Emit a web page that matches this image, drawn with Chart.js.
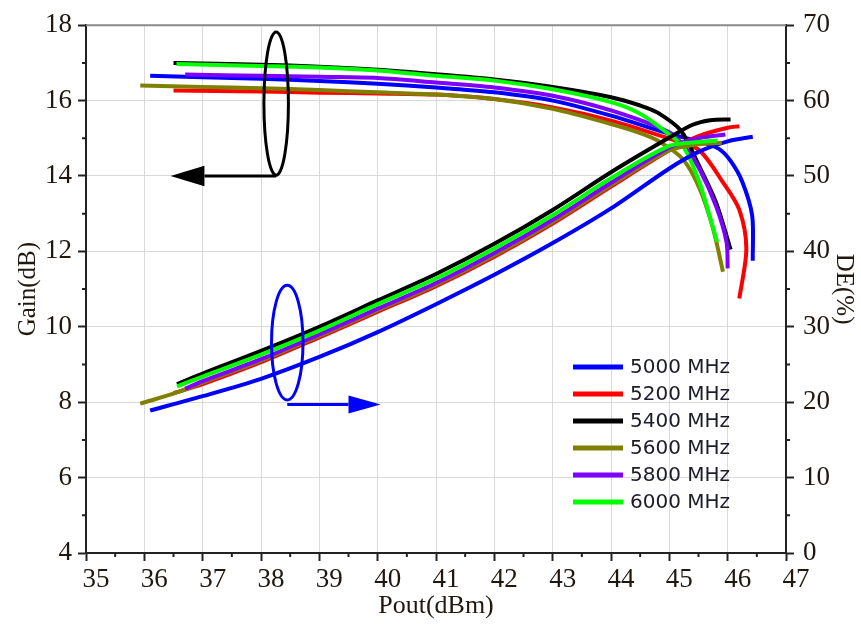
<!DOCTYPE html>
<html>
<head>
<meta charset="utf-8">
<script src="https://cdn.jsdelivr.net/npm/chart.js@4.4.0/dist/chart.umd.min.js"></script>
<style>
  html, body { margin: 0; padding: 0; background: #fff; }
  #wrap { width: 861px; height: 630px; }
</style>
</head>
<body>
<div id="wrap"><canvas id="myChart" width="861" height="630"></canvas></div>
<script>
// Tần số (legend)
const freqLabels = ["5000 MHz", "5200 MHz", "5400 MHz", "5600 MHz", "5800 MHz", "6000 MHz"];
const freqColors = ["#0000ff", "#ff0000", "#000000", "#808000", "#8000ff", "#00ff00"];

// Gain (dB) vs Pout (dBm)
const gainX5000 = [36.1, 37, 38, 39, 40, 41, 42, 43, 44, 45, 45.5, 45.85, 46.05, 46.25, 46.42, 46.43];
const gain5000  = [16.66, 16.62, 16.58, 16.52, 16.45, 16.35, 16.22, 16.0, 15.6, 15.12, 14.92, 14.72, 14.4, 13.85, 12.95, 11.75];
const gainX5200 = [36.5, 38, 39, 40, 41, 42, 43, 44, 45, 45.5, 45.92, 46.2, 46.32, 46.2];
const gain5200  = [16.27, 16.24, 16.21, 16.19, 16.16, 16.04, 15.82, 15.47, 14.99, 14.7, 13.83, 13.1, 12.07, 10.75];
const gainX5400 = [36.5, 38, 39, 40, 41, 42, 43, 44, 44.5, 44.8, 45.2, 45.5, 45.8, 46.05];
const gain5400  = [17.0, 16.95, 16.9, 16.82, 16.7, 16.56, 16.36, 16.09, 15.87, 15.68, 15.2, 14.3, 13.3, 12.05];
const gainX5600 = [35.93, 37, 38, 39, 40, 41, 42, 43, 44, 44.5, 44.8, 45.23, 45.52, 45.75, 45.92];
const gain5600  = [16.4, 16.36, 16.33, 16.28, 16.22, 16.16, 16.04, 15.78, 15.38, 15.14, 14.94, 14.45, 13.66, 12.6, 11.46];
const gainX5800 = [36.7, 38, 39, 40, 41, 42, 43, 44, 45, 45.3, 45.52, 45.8, 45.98, 46.0];
const gain5800  = [16.69, 16.66, 16.63, 16.6, 16.48, 16.35, 16.13, 15.74, 15.16, 14.7, 14.18, 13.2, 12.25, 11.55];
const gainX6000 = [36.55, 38, 39, 40, 41, 42, 43, 44, 44.5, 45, 45.25, 45.5, 45.7, 45.82];
const gain6000  = [16.97, 16.92, 16.88, 16.8, 16.66, 16.53, 16.3, 15.96, 15.65, 15.1, 14.75, 13.9, 12.9, 12.25];

// DE (%) vs Pout (dBm)
const deX5000 = [36.1, 37, 38, 39, 40, 41, 42, 43, 44, 45, 45.5, 46, 46.43];
const de5000  = [18.9, 20.8, 23.1, 26.0, 29.3, 33.0, 36.9, 41.1, 45.7, 51.0, 53.2, 54.6, 55.2];
const deX5200 = [36.5, 37, 38, 39, 40, 41, 42, 43, 44, 45, 45.5, 46, 46.2];
const de5200  = [21.2, 22.4, 25.3, 28.6, 32.0, 35.4, 39.3, 43.7, 48.6, 53.4, 55.3, 56.4, 56.6];
const deX5400 = [36.56, 37, 38, 39, 40, 41, 42, 43, 44, 45, 45.4, 45.7, 46.05];
const de5400  = [22.4, 23.8, 26.8, 30.0, 33.5, 37.0, 41.0, 45.5, 50.5, 55.1, 56.8, 57.4, 57.5];
const deX5600 = [35.93, 36.56, 37, 38, 39, 40, 41, 42, 43, 44, 45, 45.5, 45.9];
const de5600  = [19.8, 21.3, 22.6, 25.5, 28.8, 32.2, 35.6, 39.5, 43.9, 48.8, 53.4, 54.2, 54.4];
const deX5800 = [36.7, 37, 38, 39, 40, 41, 42, 43, 44, 45, 45.5, 45.96];
const de5800  = [21.8, 22.8, 25.7, 29.0, 32.4, 35.8, 39.8, 44.2, 49.1, 53.8, 55.0, 55.5];
const deX6000 = [36.56, 37, 38, 39, 40, 41, 42, 43, 44, 45, 45.5, 45.82];
const de6000  = [22.1, 23.4, 26.3, 29.5, 33.0, 36.4, 40.4, 44.8, 49.7, 54.0, 54.5, 54.7];

// Trục
const xTicks = { min: 35, max: 47, step: 1 };
const gainTicks = { min: 4, max: 18, step: 2 };
const deTicks = { min: 0, max: 70, step: 10 };

const gainSets = [[gainX5000, gain5000], [gainX5200, gain5200], [gainX5400, gain5400], [gainX5600, gain5600], [gainX5800, gain5800], [gainX6000, gain6000]];
const deSets = [[deX5000, de5000], [deX5200, de5200], [deX5400, de5400], [deX5600, de5600], [deX5800, de5800], [deX6000, de6000]];

const toPts = (xs, ys) => xs.map((x, i) => ({ x: x, y: ys[i] }));

var datasets = [];
// dataset dau tien ve tren cung nen dao nguoc thu tu (6000 MHz o tren)
for (let i = 5; i >= 0; i--) {
    datasets.push({
        label: freqLabels[i] + " DE",
        data: toPts(deSets[i][0], deSets[i][1]),
        yAxisID: "y2",
        borderColor: freqColors[i],
        borderWidth: 4,
        pointRadius: 0,
        tension: 0.3,
        fill: false
    });
}
for (let i = 5; i >= 0; i--) {
    datasets.push({
        label: freqLabels[i],
        data: toPts(gainSets[i][0], gainSets[i][1]),
        yAxisID: "y",
        borderColor: freqColors[i],
        borderWidth: 4,
        pointRadius: 0,
        tension: 0.3,
        fill: false
    });
}

const serif = '"Liberation Serif", "Times New Roman", serif';
const textColor = "#20180f";

// Ve khung tren, minor ticks, vong elip + mui ten, legend
const extrasPlugin = {
    id: "extras",
    afterDraw(chart) {
        const ctx = chart.ctx;
        const a = chart.chartArea;
        const sx = chart.scales.x, sy = chart.scales.y, sd = chart.scales.y2;
        ctx.save();

        // top frame
        ctx.strokeStyle = "#8a8a8a";
        ctx.lineWidth = 2;
        ctx.beginPath();
        ctx.moveTo(a.left, a.top);
        ctx.lineTo(a.right, a.top);
        ctx.stroke();

        // minor ticks
        ctx.strokeStyle = "#222";
        ctx.lineWidth = 2;
        ctx.beginPath();
        for (let v = xTicks.min + 0.5; v < xTicks.max; v += 1) {
            const px = sx.getPixelForValue(v);
            ctx.moveTo(px, a.bottom);
            ctx.lineTo(px, a.bottom + 4);
        }
        for (let v = gainTicks.min + 1; v < gainTicks.max; v += 2) {
            const py = sy.getPixelForValue(v);
            ctx.moveTo(a.left, py);
            ctx.lineTo(a.left - 4, py);
        }
        for (let v = deTicks.min + 5; v < deTicks.max; v += 10) {
            const py = sd.getPixelForValue(v);
            ctx.moveTo(a.right, py);
            ctx.lineTo(a.right + 4, py);
        }
        ctx.stroke();

        // elip + mui ten
        const drawMark = (color, cx, cy, rx, ry, yScale, lineY, baseX, tipX, headH) => {
            const pcx = sx.getPixelForValue(cx);
            const pcy = yScale.getPixelForValue(cy);
            const prx = Math.abs(sx.getPixelForValue(cx + rx) - pcx);
            const pry = Math.abs(yScale.getPixelForValue(cy + ry) - pcy);
            const ply = yScale.getPixelForValue(lineY);
            const pbase = sx.getPixelForValue(baseX);
            const ptip = sx.getPixelForValue(tipX);
            const ph = Math.abs(yScale.getPixelForValue(lineY + headH) - ply);
            ctx.strokeStyle = color;
            ctx.fillStyle = color;
            ctx.lineWidth = 3;
            ctx.beginPath();
            ctx.ellipse(pcx, pcy, prx, pry, 0, 0, Math.PI * 2);
            ctx.stroke();
            ctx.beginPath();
            ctx.moveTo(pcx, ply);
            ctx.lineTo(pbase, ply);
            ctx.stroke();
            ctx.beginPath();
            ctx.moveTo(ptip, ply);
            ctx.lineTo(pbase, ply - ph);
            ctx.lineTo(pbase, ply + ph);
            ctx.closePath();
            ctx.fill();
        };
        drawMark("#000", 38.26, 15.92, 0.21, 1.9, sy, 14.0, 37.03, 36.45, 0.27);
        drawMark("#0000ff", 38.45, 27.9, 0.27, 7.6, sd, 19.7, 39.5, 40.05, 1.2);

        // legend
        ctx.font = '20px "DejaVu Sans", sans-serif';
        ctx.textBaseline = "middle";
        ctx.textAlign = "left";
        for (let i = 0; i < freqLabels.length; i++) {
            const y = a.bottom - 186 + i * 27;
            ctx.strokeStyle = freqColors[i];
            ctx.lineWidth = 5;
            ctx.beginPath();
            ctx.moveTo(a.right - 213, y);
            ctx.lineTo(a.right - 163, y);
            ctx.stroke();
            ctx.fillStyle = "#1c1c2a";
            ctx.fillText(freqLabels[i], a.right - 156, y + 1);
        }
        ctx.restore();
    }
};

new Chart(document.getElementById("myChart").getContext("2d"), {
    type: "line",
    data: { datasets: datasets },
    plugins: [extrasPlugin],
    options: {
        responsive: false,
        animation: false,
        devicePixelRatio: 1,
        layout: { padding: { top: 22, left: 0, right: 0, bottom: 0 } },
        plugins: { legend: { display: false }, tooltip: { enabled: false } },
        scales: {
            x: {
                type: "linear",
                min: xTicks.min, max: xTicks.max,
                afterFit: (s) => { s.height = 77; },
                ticks: { stepSize: xTicks.step, color: textColor, font: { family: serif, size: 27 }, padding: 3, labelOffset: 10, maxRotation: 0 },
                grid: { color: "#d9d9d9", lineWidth: 1, tickLength: 8, tickColor: "#222", tickWidth: 2 },
                border: { color: "#222", width: 2 },
                title: { display: true, text: "Pout(dBm)", color: textColor, font: { family: serif, size: 26 }, padding: { top: 0, bottom: 8 } }
            },
            y: {
                position: "left",
                min: gainTicks.min, max: gainTicks.max,
                afterFit: (s) => { s.width = 86; },
                ticks: { stepSize: gainTicks.step, color: textColor, font: { family: serif, size: 27 }, padding: 6 },
                grid: { color: "#d9d9d9", lineWidth: 1, tickLength: 8, tickColor: "#222", tickWidth: 2 },
                border: { color: "#222", width: 2 },
                title: { display: true, text: "Gain(dB)", color: textColor, font: { family: serif, size: 25 }, padding: { top: 13, bottom: 0 } }
            },
            y2: {
                position: "right",
                min: deTicks.min, max: deTicks.max,
                afterFit: (s) => { s.width = 75; },
                ticks: { stepSize: deTicks.step, color: textColor, font: { family: serif, size: 27 }, padding: 9 },
                grid: { drawOnChartArea: false, tickLength: 8, tickColor: "#222", tickWidth: 2 },
                border: { color: "#222", width: 2 },
                title: { display: true, text: "DE(%)", color: textColor, font: { family: serif, size: 25 }, padding: { top: 2, bottom: 0 } }
            }
        }
    }
});
</script>
</body>
</html>
